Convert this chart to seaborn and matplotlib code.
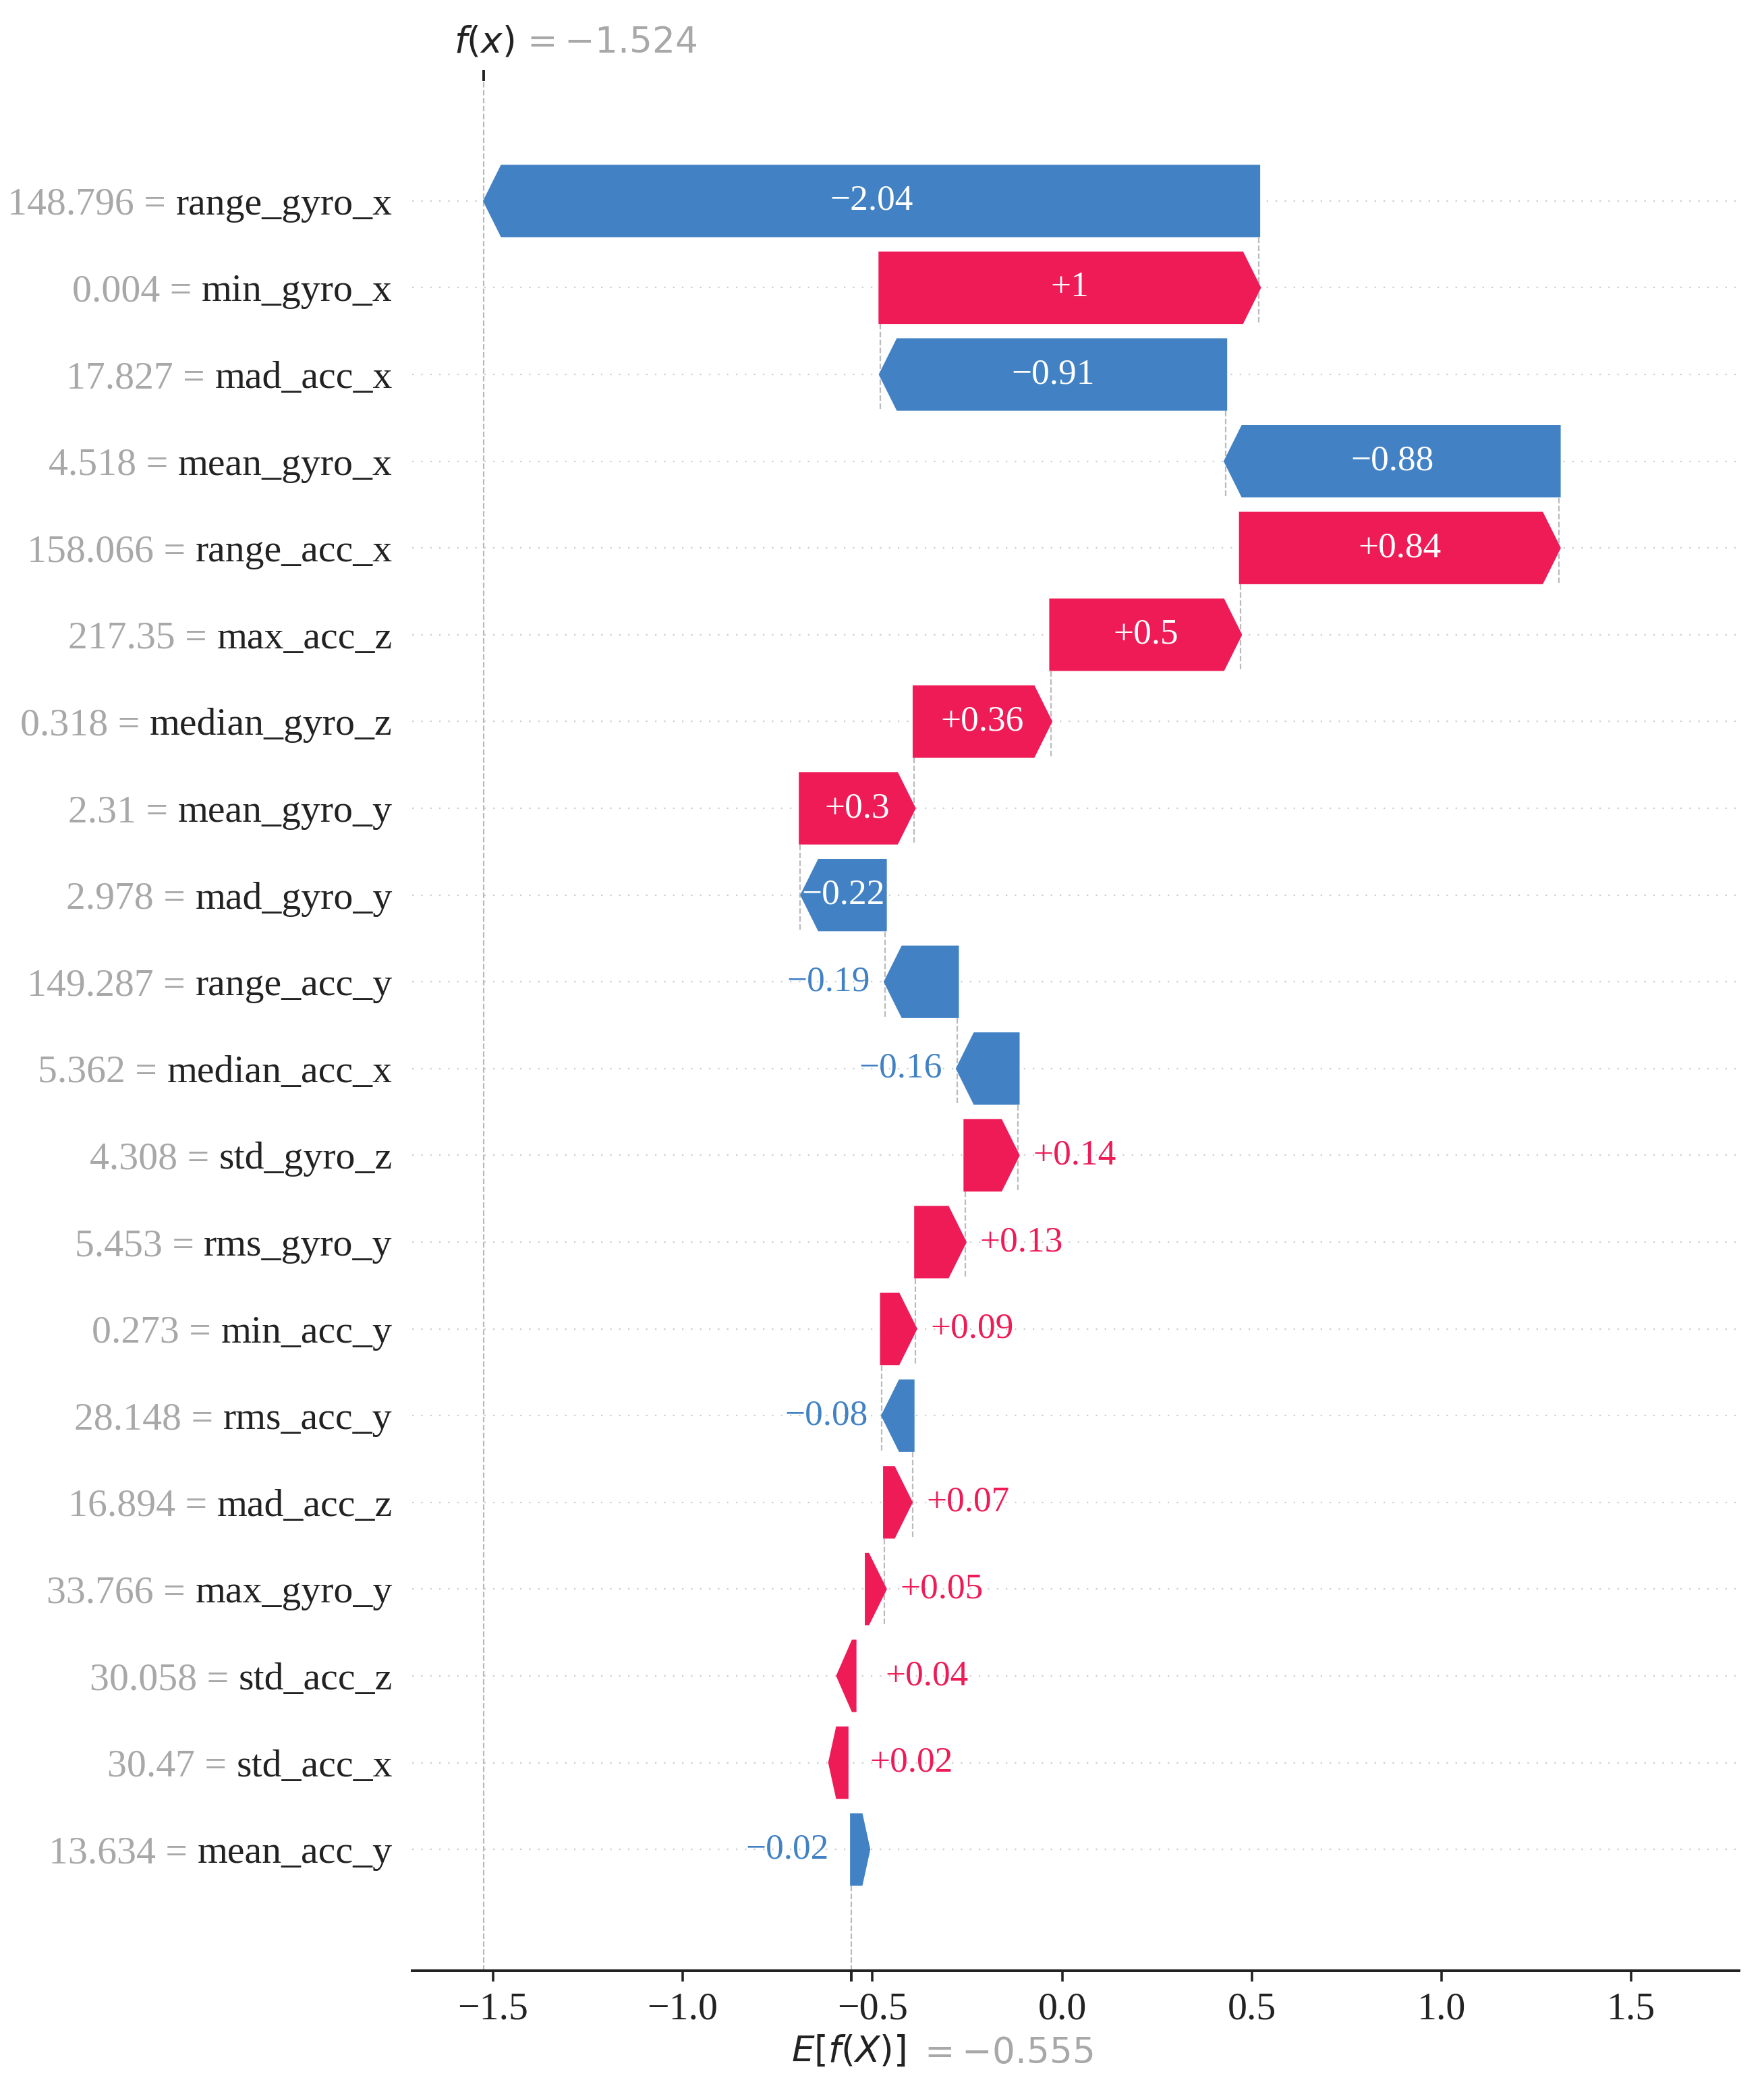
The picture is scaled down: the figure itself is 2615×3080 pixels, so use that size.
import re
import numpy as np
import matplotlib
matplotlib.use("Agg")
import matplotlib.pyplot as plt
import matplotlib.transforms as mtrans
import seaborn as sns

# rows from top to bottom
feature_names = ["range_gyro_x", "min_gyro_x", "mad_acc_x", "mean_gyro_x", "range_acc_x",
                 "max_acc_z", "median_gyro_z", "mean_gyro_y", "mad_gyro_y", "range_acc_y",
                 "median_acc_x", "std_gyro_z", "rms_gyro_y", "min_acc_y", "rms_acc_y",
                 "mad_acc_z", "max_gyro_y", "std_acc_z", "std_acc_x", "mean_acc_y"]
feature_values = [148.796, 0.004, 17.827, 4.518, 158.066, 217.35, 0.318, 2.31, 2.978, 149.287,
                  5.362, 4.308, 5.453, 0.273, 28.148, 16.894, 33.766, 30.058, 30.47, 13.634]
shap_values = [-2.04, 1.0, -0.91, -0.88, 0.84, 0.5, 0.36, 0.3, -0.22, -0.19,
               -0.16, 0.14, 0.13, 0.09, -0.08, 0.07, 0.05, 0.04, 0.02, -0.02]
# where each arrow starts on the x axis
bar_starts = [0.518, -0.480, 0.431, 1.310, 0.470, -0.030, -0.390, -0.690, -0.466, -0.276,
              -0.116, -0.256, -0.386, -0.476, -0.393, -0.468, -0.516, -0.546, -0.567, -0.555]
fx = -1.524
base_value = -0.555

red = "#ee1b56"
blue = "#4282c4"
gray = "#a8a8a8"
black = "#222222"


def format_value(v, fmt, unicode_minus=True):
    s = fmt % v
    s = re.sub(r"\.?0+$", "", s)
    if unicode_minus:
        s = s.replace("-", "\u2212")
    return s


sns.set_style("ticks")
plt.rcParams["font.family"] = ["Liberation Serif", "DejaVu Serif"]
plt.rcParams["mathtext.fontset"] = "dejavusans"

W, H, DPI = 2615, 3080, 320
fig = plt.figure(figsize=(W / DPI, H / DPI), dpi=DPI)
ax = fig.add_axes([611 / W, 1 - 2921 / H, (2578 - 611) / W, (2921 - 120) / H])

n = len(feature_names)
xmin, xmax = -1.713, 1.784
ax.set_xlim(xmin, xmax)
ax.set_ylim(-1.398, n + 0.383)

# arrow head of 0.08 inch, in data units
ax_w_in = ax.get_position().width * fig.get_figwidth()
xscale = (xmax - xmin) / ax_w_in
hl = 0.08 * xscale
bar_w = 0.8

for y in range(n):
    ax.axhline(y, color="#cccccc", lw=0.5, dashes=(1, 5), zorder=-1)

renderer = fig.canvas.get_renderer()
for i in range(n):
    y = n - 1 - i
    v = shap_values[i]
    s = bar_starts[i]
    col = red if v >= 0 else blue
    dist = abs(v)
    arr = ax.arrow(s, y, np.sign(v) * (dist - hl), 0, head_length=min(dist, hl),
                   width=bar_w, head_width=bar_w, color=col, lw=1.0)
    if i + 4 < n:
        ax.plot([s, s], [y - 1 - 0.4, y + 0.4], color="#bbbbbb", ls="--", lw=0.5, zorder=-1)

    label = format_value(v, "%+0.02f")
    txt = ax.text(s + v / 2, y, label, ha="center", va="center", color="white", fontsize=12)
    if txt.get_window_extent(renderer).width > arr.get_window_extent(renderer).width:
        txt.remove()
        off = 5 / 72 * xscale
        if v >= 0:
            ax.text(s + v + off, y, label, ha="left", va="center", color=col, fontsize=12)
        else:
            ax.text(s + v - off, y, label, ha="right", va="center", color=col, fontsize=12)

ax.axvline(fx, 0, 1, color="#bbbbbb", ls="--", lw=0.5, zorder=-1)
ax.axvline(base_value, 0, 1 / n, color="#bbbbbb", ls="--", lw=0.5, zorder=-1)


def text_width(s, size):
    t = fig.text(0, 0, s, fontsize=size)
    w = t.get_window_extent(renderer).width
    t.remove()
    return w


# y labels: black feature name, gray "value =" placed just to its left
name_labels = [""] * n
value_labels = [""] * n
shifts = [0.0] * n
for i in range(n):
    vs = format_value(feature_values[i], "%0.03f") + " ="
    full = vs + " " + feature_names[i]
    name_labels[n - 1 - i] = feature_names[i]
    value_labels[n - 1 - i] = vs
    shifts[n - 1 - i] = text_width(full, 13) - text_width(vs, 13)
ax.set_yticks(list(range(n)) + list(np.arange(n) + 1e-8), name_labels + value_labels, fontsize=13)
ax.tick_params(axis="y", length=0, pad=6.6)
for k, t in enumerate(ax.yaxis.get_majorticklabels()):
    if k < n:
        t.set_color(black)
    else:
        t.set_color(gray)
        t.set_transform(t.get_transform() + mtrans.ScaledTranslation(-shifts[k - n] / DPI, 0, fig.dpi_scale_trans))

ax.set_xticks([-1.5, -1.0, -0.5, 0.0, 0.5, 1.0, 1.5])
ax.tick_params(axis="x", labelsize=13, colors=black)
sns.despine(ax=ax, left=True)
ax.spines["bottom"].set_color(black)

# E[f(X)] tick (ends up at the bottom) and f(x) tick at the top
ax2 = ax.twiny()
ax2.set_xlim(xmin, xmax)
ax2.set_xticks([base_value, base_value + 1e-8])
ax2.set_xticklabels(["$E[f(X)]$", "$ = " + format_value(base_value, "%0.03f", False) + "$"],
                    fontsize=12, ha="left")

ax3 = ax2.twiny()
ax3.set_xlim(xmin, xmax)
ax3.set_xticks([fx, fx + 1e-8])
ax3.set_xticklabels(["$f(x)$", "$ = " + format_value(fx, "%0.03f", False) + "$"],
                    fontsize=12, ha="left")

for a in (ax2, ax3):
    a.tick_params(axis="x", colors=black)
    for side in ("top", "right", "left"):
        a.spines[side].set_visible(False)
    a.spines["bottom"].set_color(black)

tl = ax3.xaxis.get_majorticklabels()
tl[0].set_transform(tl[0].get_transform() + mtrans.ScaledTranslation(-10 / 72, 0, fig.dpi_scale_trans))
tl[1].set_transform(tl[1].get_transform() + mtrans.ScaledTranslation(12 / 72, 0, fig.dpi_scale_trans))
tl[1].set_color(gray)

# the E[f(X)] label sits one text line below the regular tick labels
line_drop = 1.2 * 12 / 72
tl = ax2.xaxis.get_majorticklabels()
tl[0].set_transform(tl[0].get_transform() + mtrans.ScaledTranslation(-20 / 72, -line_drop, fig.dpi_scale_trans))
tl[1].set_transform(tl[1].get_transform() + mtrans.ScaledTranslation(22 / 72, -1 / 72 - line_drop, fig.dpi_scale_trans))
tl[1].set_color(gray)

fig.savefig("out.png", dpi=DPI)
